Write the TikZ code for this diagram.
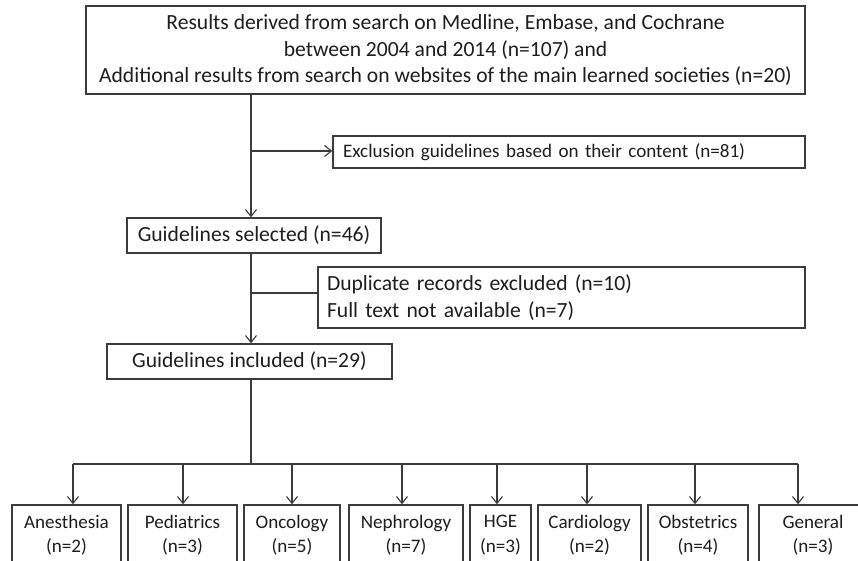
\documentclass[tikz,border=0pt]{standalone}
\usepackage{fontspec}
\setmainfont{Carlito}
\usetikzlibrary{arrows.meta}
\definecolor{linec}{HTML}{3C3C3C}
\definecolor{txtc}{HTML}{1E1E1E}
\begin{document}
\begin{tikzpicture}[x=1pt,y=-1pt,
  box/.style={draw=linec, line width=1.3pt, inner sep=0pt, font=\fontsize{21.6}{26.5}\selectfont, text=txtc, anchor=center},
  smallbox/.style={box, font=\fontsize{19.1}{24.5}\selectfont},
  catbox/.style={smallbox, minimum height=60pt, align=center},
  conn/.style={draw=linec, line width=1.3pt},
  arr/.style={conn, -{Straight Barb[length=7pt,width=11pt,line width=1.1pt]}}]
\clip (0,0) rectangle (858,560);
\fill[white] (0,0) rectangle (858,560);

% main boxes
\node[box, minimum width=719pt, minimum height=88pt, align=center] (top) at (445.5,50)
  {Results derived from search on Medline, Embase, and Cochrane\\ between 2004 and 2014 (n=107) and\\ Additional results from search on websites of the main learned societies (n=20)};
\node[smallbox, minimum width=472pt, minimum height=32pt, text width=452pt, align=left] (exc) at (569,152)
  {Exclusion guidelines based on their content (n=81)};
\node[box, minimum width=254pt, minimum height=35pt] (sel) at (254,235.5)
  {Guidelines selected (n=46)};
\node[box, line width=2pt, minimum width=487pt, minimum height=61pt, text width=469pt, align=left] (dup) at (561.5,297.5)
  {Duplicate records excluded (n=10)\\ Full text not available (n=7)};
\node[box, minimum width=285pt, minimum height=35pt] (inc) at (249.5,361.5)
  {Guidelines included (n=29)};

% category boxes
\node[catbox, minimum width=109pt] (c1) at (66.5,535) {Anesthesia\\(n=2)};
\node[catbox, minimum width=109pt] (c2) at (182.5,535) {Pediatrics\\(n=3)};
\node[catbox, minimum width=96pt]  (c3) at (292,535) {Oncology\\(n=5)};
\node[catbox, minimum width=114pt] (c4) at (406,535) {Nephrology\\(n=7)};
\node[catbox, minimum width=61pt]  (c5) at (500.5,535) {HGE\\(n=3)};
\node[catbox, minimum width=103pt] (c6) at (589.5,535) {Cardiology\\(n=2)};
\node[catbox, minimum width=100pt] (c7) at (698,535) {Obstetrics\\(n=4)};
\node[catbox, minimum width=108pt] (c8) at (813,535) {General\\(n=3)};

% connector helpers
\coordinate (mx) at (251,0);
\coordinate (b1) at (0,151);
\coordinate (b2) at (0,293);
\coordinate (hl) at (0,464);
\coordinate (a1) at (73,464);
\coordinate (a2) at (183,464);
\coordinate (a3) at (292,464);
\coordinate (a4) at (402,464);
\coordinate (a5) at (497,464);
\coordinate (a6) at (587,464);
\coordinate (a7) at (695,464);
\coordinate (a8) at (798,464);

% connectors
\draw[arr] (top.south -| mx) -- (sel.north -| mx);
\draw[arr] (mx |- b1) -- (exc.west |- b1);
\draw[arr] (sel.south -| mx) -- (inc.north -| mx);
\draw[conn] (mx |- b2) -- (dup.west |- b2);
\draw[conn] (inc.south -| mx) -- (mx |- hl);
\draw[conn] (a1) -- (a8);
\draw[arr] (a1) -- (a1 |- c1.north);
\draw[arr] (a2) -- (a2 |- c2.north);
\draw[arr] (a3) -- (a3 |- c3.north);
\draw[arr] (a4) -- (a4 |- c4.north);
\draw[arr] (a5) -- (a5 |- c5.north);
\draw[arr] (a6) -- (a6 |- c6.north);
\draw[arr] (a7) -- (a7 |- c7.north);
\draw[arr] (a8) -- (a8 |- c8.north);
\end{tikzpicture}
\end{document}
